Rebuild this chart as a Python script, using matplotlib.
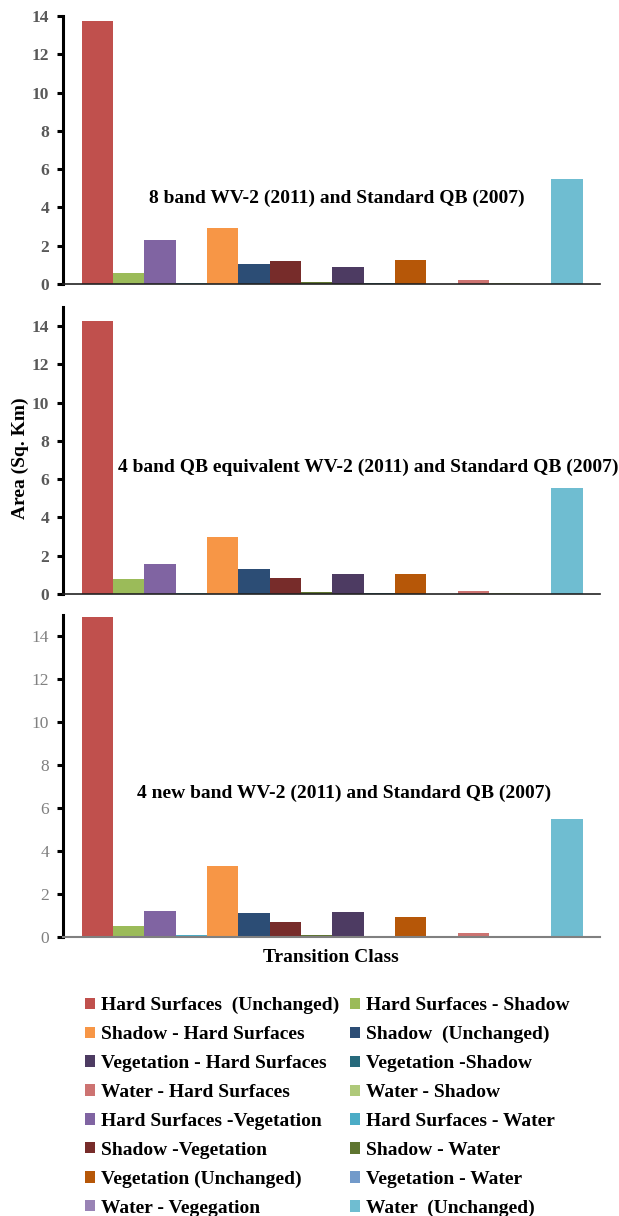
import matplotlib
matplotlib.use('Agg')
import matplotlib.pyplot as plt
from matplotlib.patches import Patch
import numpy as np

"""
Land cover transition areas, three band combinations
"""

plt.rcParams['font.family'] = ['Liberation Serif', 'DejaVu Serif']

# transition classes in bar (series) order
classes = ['Hard Surfaces  (Unchanged)', 'Hard Surfaces - Shadow',
           'Hard Surfaces -Vegetation', 'Hard Surfaces - Water',
           'Shadow - Hard Surfaces', 'Shadow  (Unchanged)',
           'Shadow -Vegetation', 'Shadow - Water',
           'Vegetation - Hard Surfaces', 'Vegetation -Shadow',
           'Vegetation (Unchanged)', 'Vegetation - Water',
           'Water - Hard Surfaces', 'Water - Shadow',
           'Water - Vegegation', 'Water  (Unchanged)']

colors = ['#C0504D', '#9BBB59', '#8064A2', '#4BACC6',
          '#F79646', '#2C4D75', '#772C2A', '#5F7530',
          '#4D3B62', '#276A7C', '#B65708', '#729ACA',
          '#CD7371', '#AFC97A', '#9983B5', '#6FBDD1']

# area in sq. km
area_8band = [13.76, 0.56, 2.30, 0.03, 2.92, 1.05, 1.19, 0.08,
              0.87, 0.05, 1.24, 0.01, 0.19, 0.04, 0.0, 5.49]
area_4band_eq = [14.28, 0.77, 1.55, 0.05, 3.00, 1.29, 0.85, 0.08,
                 1.04, 0.07, 1.03, 0.01, 0.17, 0.04, 0.0, 5.52]
area_4new = [14.90, 0.50, 1.23, 0.07, 3.30, 1.12, 0.72, 0.08,
             1.18, 0.03, 0.92, 0.01, 0.19, 0.03, 0.0, 5.52]

titles = ['8 band WV-2 (2011) and Standard QB (2007)',
          '4 band QB equivalent WV-2 (2011) and Standard QB (2007)',
          '4 new band WV-2 (2011) and Standard QB (2007)']

y_tops = [14, 15, 15]
title_pos = [(0.510, 4.5), (0.568, 6.6), (0.523, 6.7)]

W, H = 619, 1216
fig = plt.figure(figsize=(W / 100, H / 100), dpi=100)


def px_axes(x0, x1, y_top, y_zero):
    return fig.add_axes([x0 / W, 1 - y_zero / H, (x1 - x0) / W, (y_zero - y_top) / H])


boxes = [(63, 600, 16, 284), (63, 600, 307, 594), (63, 600, 615, 937)]
data = [area_8band, area_4band_eq, area_4new]
x = np.arange(len(classes))

for i in range(3):
    ax = px_axes(*boxes[i])
    ax.bar(x, data[i], width=1.0, color=colors, edgecolor='none')
    ax.set_xlim(-1.1, 16.05)
    ax.set_ylim(0, y_tops[i])
    ax.set_yticks(np.arange(0, 15, 2))
    ax.set_xticks([])
    for s in ['top', 'right']:
        ax.spines[s].set_visible(False)
    ax.spines['left'].set_linewidth(2.2)
    ax.spines['left'].set_color('black')
    if i < 2:
        ax.spines['bottom'].set_color('#222222')
        ax.spines['bottom'].set_linewidth(1.2)
        ax.tick_params(axis='y', length=4, width=2.2, direction='out',
                       labelsize=12.5, labelcolor='#595959', pad=6)
        for t in ax.get_yticklabels():
            t.set_fontweight('bold')
    else:
        ax.spines['bottom'].set_color('#808080')
        ax.spines['bottom'].set_linewidth(1.5)
        ax.tick_params(axis='y', length=4, width=2.2, direction='out',
                       labelsize=12.5, labelcolor='#808080', pad=6)
    tx, ty = title_pos[i]
    ax.text(tx, ty, titles[i], transform=ax.get_yaxis_transform(),
            ha='center', va='center', fontsize=14, fontweight='bold',
            clip_on=False)

fig.text(20 / W, 1 - 458 / H, 'Area (Sq. Km)', rotation=90, ha='center',
         va='center', fontsize=14, fontweight='bold')
fig.text(331 / W, 1 - 957 / H, 'Transition Class', ha='center', va='center',
         fontsize=14, fontweight='bold')

# legend rows read left to right in reference, matplotlib fills by column
legend_order = [0, 4, 8, 12, 2, 6, 10, 14, 1, 5, 9, 13, 3, 7, 11, 15]
handles = [Patch(facecolor=colors[k], edgecolor='none') for k in legend_order]
labels = [classes[k] for k in legend_order]
fig.legend(handles, labels, ncol=2, loc='upper left',
           bbox_to_anchor=(85 / W, 1 - 997 / H), frameon=False,
           prop={'weight': 'bold', 'size': 14},
           handlelength=0.52, handleheight=0.52, handletextpad=0.3,
           columnspacing=0.55, labelspacing=0.61, borderaxespad=0,
           borderpad=0)

fig.savefig('out.png', dpi=100)
